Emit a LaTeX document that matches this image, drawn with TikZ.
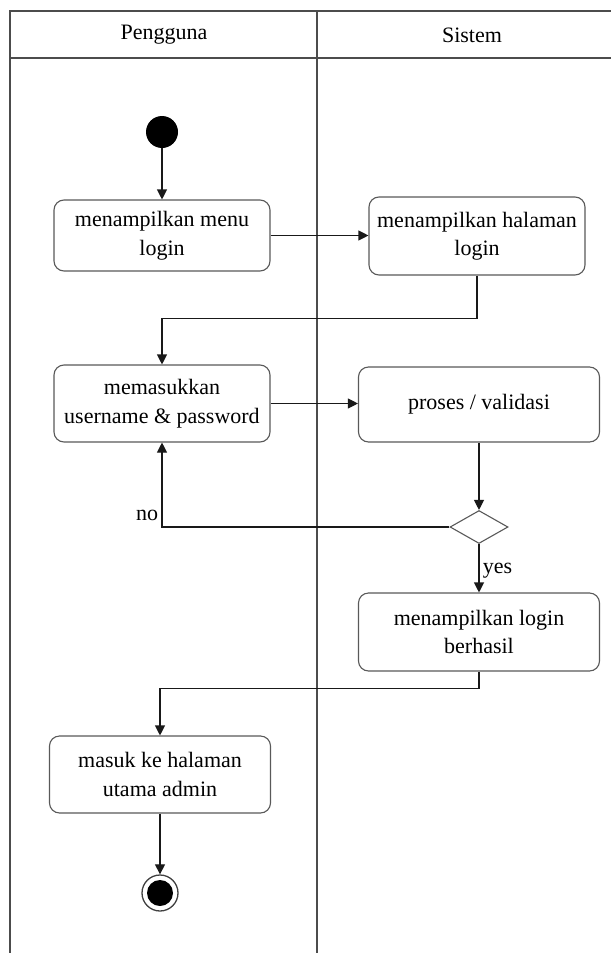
\documentclass[tikz,border=0pt]{standalone}
\usepackage{fontspec}
\setmainfont{Liberation Serif}
\usetikzlibrary{arrows.meta,shapes.geometric}
\begin{document}
\begin{tikzpicture}[x=1pt,y=-1pt,
  lane/.style={draw=black!70, line width=1.4pt},
  act/.style={draw=black!65, line width=1.1pt, rounded corners=10pt, fill=white,
    align=center, inner sep=0pt, font=\fontsize{22}{28.5}\selectfont},
  flow/.style={draw=black!90, line width=1.1pt, -{Triangle[length=10pt,width=10pt]}},
  lbl/.style={font=\fontsize{22}{25}\selectfont},
  head/.style={font=\fontsize{22}{25}\selectfont}]
\useasboundingbox (0,0) rectangle (611,953);

% swimlane frame
\draw[lane] (10,953) -- (10,11) -- (611,11);
\draw[lane] (10,58) -- (611,58);
\draw[lane] (317,11) -- (317,953);
\node[head] (hUser) at (164,35) {Pengguna};
\node[head] (hSys) at (472,35) {Sistem};

% start and end
\node[circle, fill=black, minimum size=32pt, inner sep=0pt] (start) at (162,132) {};
\node[circle, draw=black!75, line width=1.3pt, minimum size=36pt, inner sep=0pt] (end) at (160,893) {};
\fill[black] (end.center) circle (13pt);

% activities
\node[act, minimum width=216pt, minimum height=71pt] (a1) at (162,235.5) {menampilkan menu\\login};
\node[act, minimum width=216pt, minimum height=78pt] (a2) at (477,236) {menampilkan halaman\\login};
\node[act, minimum width=216pt, minimum height=77pt] (a3) at (162,403.5) {memasukkan\\username \& password};
\node[act, minimum width=241pt, minimum height=75pt] (a4) at (479,404.5) {proses / validasi};
\node[draw=black!65, line width=1.1pt, diamond, minimum width=58pt, minimum height=33pt, inner sep=0pt] (dec) at (479,527) {};
\node[act, minimum width=241pt, minimum height=78pt] (a5) at (479,632) {menampilkan login\\berhasil};
\node[act, minimum width=221pt, minimum height=77pt] (a6) at (160,774.5) {masuk ke halaman\\utama admin};

% flows
\draw[flow] (start) -- (a1);
\draw[flow] (a1.east) -- (a1.east -| a2.west);
\draw[flow] (a2.south) -- ++(0,43) -| (a3.north);
\draw[flow] (a3.east) -- (a3.east -| a4.west);
\draw[flow] (a4.south) -- (dec.north);
\draw[flow] (dec.west) -| node[lbl, pos=0.57, left] {no} (a3.south);
\draw[flow] (dec.south) -- node[lbl, pos=0.54, right] {yes} (a5.north);
\draw[flow] (a5.south) -- ++(0,17) -| (a6.north);
\draw[flow] (a6) -- (end);
\end{tikzpicture}
\end{document}
